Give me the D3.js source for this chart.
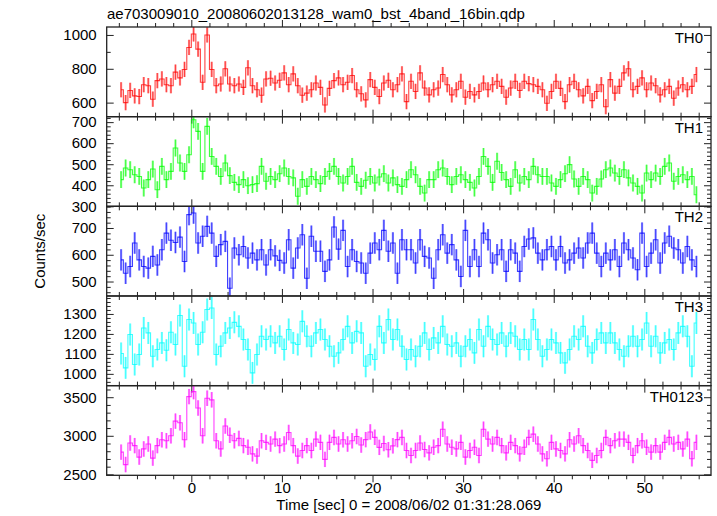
<!DOCTYPE html>
<html><head><meta charset="utf-8">
<script src="https://cdn.jsdelivr.net/npm/d3@7"></script>
<style>
body{margin:0;background:#fff}
svg{display:block}
text{font-family:"Liberation Sans",Arial,Helvetica,sans-serif;fill:#000}
</style>
</head><body>
<svg id="chart" width="717" height="516"></svg>
<script>
// ---- data (counts/sec, 0.5 s bins starting at t = -8 s) ----
const binStart = -8;
const binWidth = 0.5;
const th0 = [676,600,672,640,636,706,700,620,730,740,706,700,780,746,796,926,1006,916,720,1000,796,700,710,800,710,700,710,690,806,700,676,644,740,744,716,732,776,706,770,700,644,656,676,716,690,586,684,730,746,706,720,760,676,652,616,736,690,636,716,732,676,706,770,606,
726,666,776,686,646,676,686,766,706,646,676,726,632,666,646,666,716,676,706,726,696,632,686,726,672,726,712,706,696,676,596,666,726,684,606,706,726,676,640,696,612,666,706,576,736,656,696,776,800,676,696,746,676,716,700,646,676,696,626,686,706,676,696,766];
const th1 = [427,482,474,450,442,387,427,477,379,490,427,466,577,506,466,545,711,656,466,680,537,490,442,506,446,414,403,427,398,403,408,490,419,442,427,455,482,442,435,348,427,395,442,427,408,442,466,490,442,411,442,490,414,395,424,442,411,439,455,411,435,403,395,427,
474,450,395,363,427,427,474,482,442,403,442,450,427,414,387,442,537,490,414,514,461,427,395,474,411,442,427,490,450,442,442,411,395,427,455,498,430,395,442,427,363,395,430,474,482,458,442,474,435,411,395,363,458,427,458,442,490,506,419,442,450,427,442,355];
const th2 = [581,531,556,644,581,556,550,594,562,619,681,654,646,666,575,750,756,644,669,706,681,594,638,650,475,625,600,631,588,606,581,619,562,619,596,579,569,656,550,625,675,512,669,613,613,538,581,704,621,691,556,619,575,569,531,606,644,619,691,613,644,531,656,619,
619,569,656,594,588,512,619,675,606,638,581,519,691,556,619,556,681,656,569,600,619,538,619,606,538,631,659,663,606,581,619,631,581,631,569,581,606,625,588,644,681,606,556,606,581,619,556,644,619,588,544,681,556,606,656,569,644,669,625,619,569,631,581,556];
const th3 = [1102,1030,1197,1047,1097,1230,1205,1088,1122,1155,1118,1208,1147,1292,1038,1272,1255,1147,1208,1322,1330,1097,1138,1205,1230,1258,1238,1172,1122,1005,1097,1188,1172,1188,1155,1188,1122,1222,1155,1147,1263,1188,1138,1205,1222,1172,1138,1088,1105,1172,1238,1155,1213,1205,1038,1097,1072,1238,1155,1272,1172,1222,1138,1072,
1122,1088,1138,1205,1122,1180,1155,1238,1147,1138,1155,1088,1138,1172,1105,1222,1138,1238,1172,1147,1205,1138,1205,1188,1122,1172,1122,1272,1172,1088,1122,1172,1155,1105,1055,1122,1188,1172,1238,1138,1105,1172,1205,1155,1205,1155,1122,1088,1138,1188,1138,1172,1255,1138,1188,1105,1155,1172,1122,1205,1238,1188,1038,1255];
const th0123 = [2788,2627,2906,2873,2724,2830,2894,2711,2873,2949,2936,3000,3190,3169,2949,3508,3572,3360,3000,3487,3466,2936,2830,3127,3008,2936,2966,2873,2851,2766,2737,2936,2915,2894,2957,2873,2894,3042,2873,2737,2809,2873,2809,2957,2915,2694,2915,2979,2894,2949,2894,2936,2991,2880,2950,3050,2980,2850,2900,2820,2870,2950,2979,2809,
2745,2809,2906,2822,2779,2851,2873,3084,2894,2851,2830,2915,2724,2809,2851,2745,3084,2957,2894,2979,2873,2779,2915,2873,2766,2851,2979,3021,2894,2766,2703,2915,2830,2809,2766,2949,2894,3000,2873,2809,2682,2745,2809,2979,2873,2936,2957,2957,2915,2745,2873,2936,2851,2788,2873,2788,2915,2979,2894,2915,2830,2957,2703,2915];
const errors = [45, 40, 40, 55, 100];
const panelNames = ["TH0", "TH1", "TH2", "TH3", "TH0123"];
const yMajorTicks = [[600,800,1000],[300,400,500,600,700],[500,600,700],[1000,1100,1200,1300],[2500,3000,3500]];
const yMinorStep = [100, 20, 20, 20, 100];
const xMajorTicks = [0,10,20,30,40,50];
const titleText = "ae703009010_20080602013128_wam0_bst_4band_16bin.qdp";
const xLabelText = "Time [sec] 0 = 2008/06/02 01:31:28.069";
const yLabelText = "Counts/sec";

const series = [th0, th1, th2, th3, th0123];
const yDomains = [[517,1047],[300,726],[446,781],[941,1390],[2488,3650]];
const colors = ["#ff0000","#00ff00","#0000ff","#00ffff","#ff00ff"];

// ---- layout ----
const svg = d3.select("#chart");
const plotL = 106.7, plotR = 711, plotT = 27, panelH = 89.66;
const x = d3.scaleLinear().domain([-9.34, 57.36]).range([plotL, plotR]);
const xMinor = d3.range(-8, 57, 2).filter(v => !xMajorTicks.includes(v));

svg.append("text").attr("x", 107).attr("y", 19).attr("font-size", 15).text(titleText);

series.forEach((vals, p) => {
  const y0 = plotT + p * panelH, y1 = y0 + panelH;
  const y = d3.scaleLinear().domain(yDomains[p]).range([y1, y0]);
  const g = svg.append("g");
  const clipId = "clip" + p;
  svg.append("clipPath").attr("id", clipId).append("rect")
    .attr("x", plotL).attr("y", y0).attr("width", plotR - plotL).attr("height", panelH);
  const dg = g.append("g").attr("clip-path", `url(#${clipId})`);
  const data = vals.map((v, i) => ({t: binStart + binWidth * (i + 0.5), v}));
  const e = errors[p];
  dg.selectAll("line.err").data(data).join("line").attr("class","err")
    .attr("x1", d => x(d.t)).attr("x2", d => x(d.t))
    .attr("y1", d => y(d.v - e)).attr("y2", d => y(d.v + e))
    .attr("stroke", colors[p]).attr("stroke-opacity", 0.45).attr("stroke-width", 2.2);
  const stepLine = d3.line().x(d => x(d.t)).y(d => y(d.v)).curve(d3.curveStep);
  dg.append("path").datum(data).attr("d", stepLine).attr("fill", "none")
    .attr("stroke", colors[p]).attr("stroke-opacity", 0.75).attr("stroke-width", 1.1);
  dg.selectAll("line.mid").data(data).join("line").attr("class","mid")
    .attr("x1", d => x(d.t)).attr("x2", d => x(d.t))
    .attr("y1", d => y(d.v - e)).attr("y2", d => y(d.v + e))
    .attr("stroke", colors[p]).attr("stroke-opacity", 0.7).attr("stroke-width", 0.8);

  // y ticks
  const [lo, hi] = yDomains[p];
  const minorY = d3.range(Math.ceil(lo / yMinorStep[p]) * yMinorStep[p], hi, yMinorStep[p])
    .filter(v => !yMajorTicks[p].includes(v));
  const styleAxis = sel => { sel.select(".domain").remove(); sel.selectAll("line").attr("stroke","#222").attr("stroke-width",1); };
  g.append("g").attr("transform", `translate(${plotL},0)`)
    .call(d3.axisLeft(y).tickValues(minorY).tickSize(-4).tickFormat("")).call(styleAxis);
  g.append("g").attr("transform", `translate(${plotR},0)`)
    .call(d3.axisRight(y).tickValues(minorY).tickSize(-4).tickFormat("")).call(styleAxis);
  g.append("g").attr("transform", `translate(${plotR},0)`)
    .call(d3.axisRight(y).tickValues(yMajorTicks[p]).tickSize(-7).tickFormat("")).call(styleAxis);
  const la = g.append("g").attr("transform", `translate(${plotL},0)`)
    .call(d3.axisLeft(y).tickValues(yMajorTicks[p]).tickSize(-7).tickPadding(10).tickFormat(d3.format("d")));
  la.call(styleAxis);
  la.selectAll("text").attr("font-size", 15).attr("font-family", null).attr("fill", "#000");

  // x ticks (top & bottom, inward)
  [[d3.axisTop, y1], [d3.axisBottom, y0]].forEach(([ax, yy]) => {
    g.append("g").attr("transform", `translate(0,${yy})`)
      .call(ax(x).tickValues(xMinor).tickSize(-4).tickFormat("")).call(styleAxis);
    g.append("g").attr("transform", `translate(0,${yy})`)
      .call(ax(x).tickValues(xMajorTicks).tickSize(-7).tickFormat("")).call(styleAxis);
  });
  if (p === series.length - 1) {
    const bx = g.append("g").attr("transform", `translate(0,${y1})`)
      .call(d3.axisBottom(x).tickValues(xMajorTicks).tickSize(0).tickPadding(7).tickFormat(d3.format("d")));
    bx.select(".domain").remove();
    bx.selectAll("text").attr("font-size", 15).attr("font-family", null).attr("fill", "#000");
  }
  // frame
  g.append("rect").attr("x", plotL).attr("y", y0).attr("width", plotR - plotL).attr("height", panelH)
    .attr("fill", "none").attr("stroke", "#222").attr("stroke-width", 1.3);
  g.append("text").attr("x", 703).attr("y", y0 + 16).attr("text-anchor", "end")
    .attr("font-size", 15).text(panelNames[p]);
});

svg.append("text").attr("x", (plotL + plotR) / 2).attr("y", 510).attr("text-anchor", "middle")
  .attr("font-size", 15).text(xLabelText);
svg.append("text").attr("transform", `translate(45,${plotT + panelH * 2.5}) rotate(-90)`)
  .attr("text-anchor", "middle").attr("font-size", 15).text(yLabelText);
</script>
</body></html>
